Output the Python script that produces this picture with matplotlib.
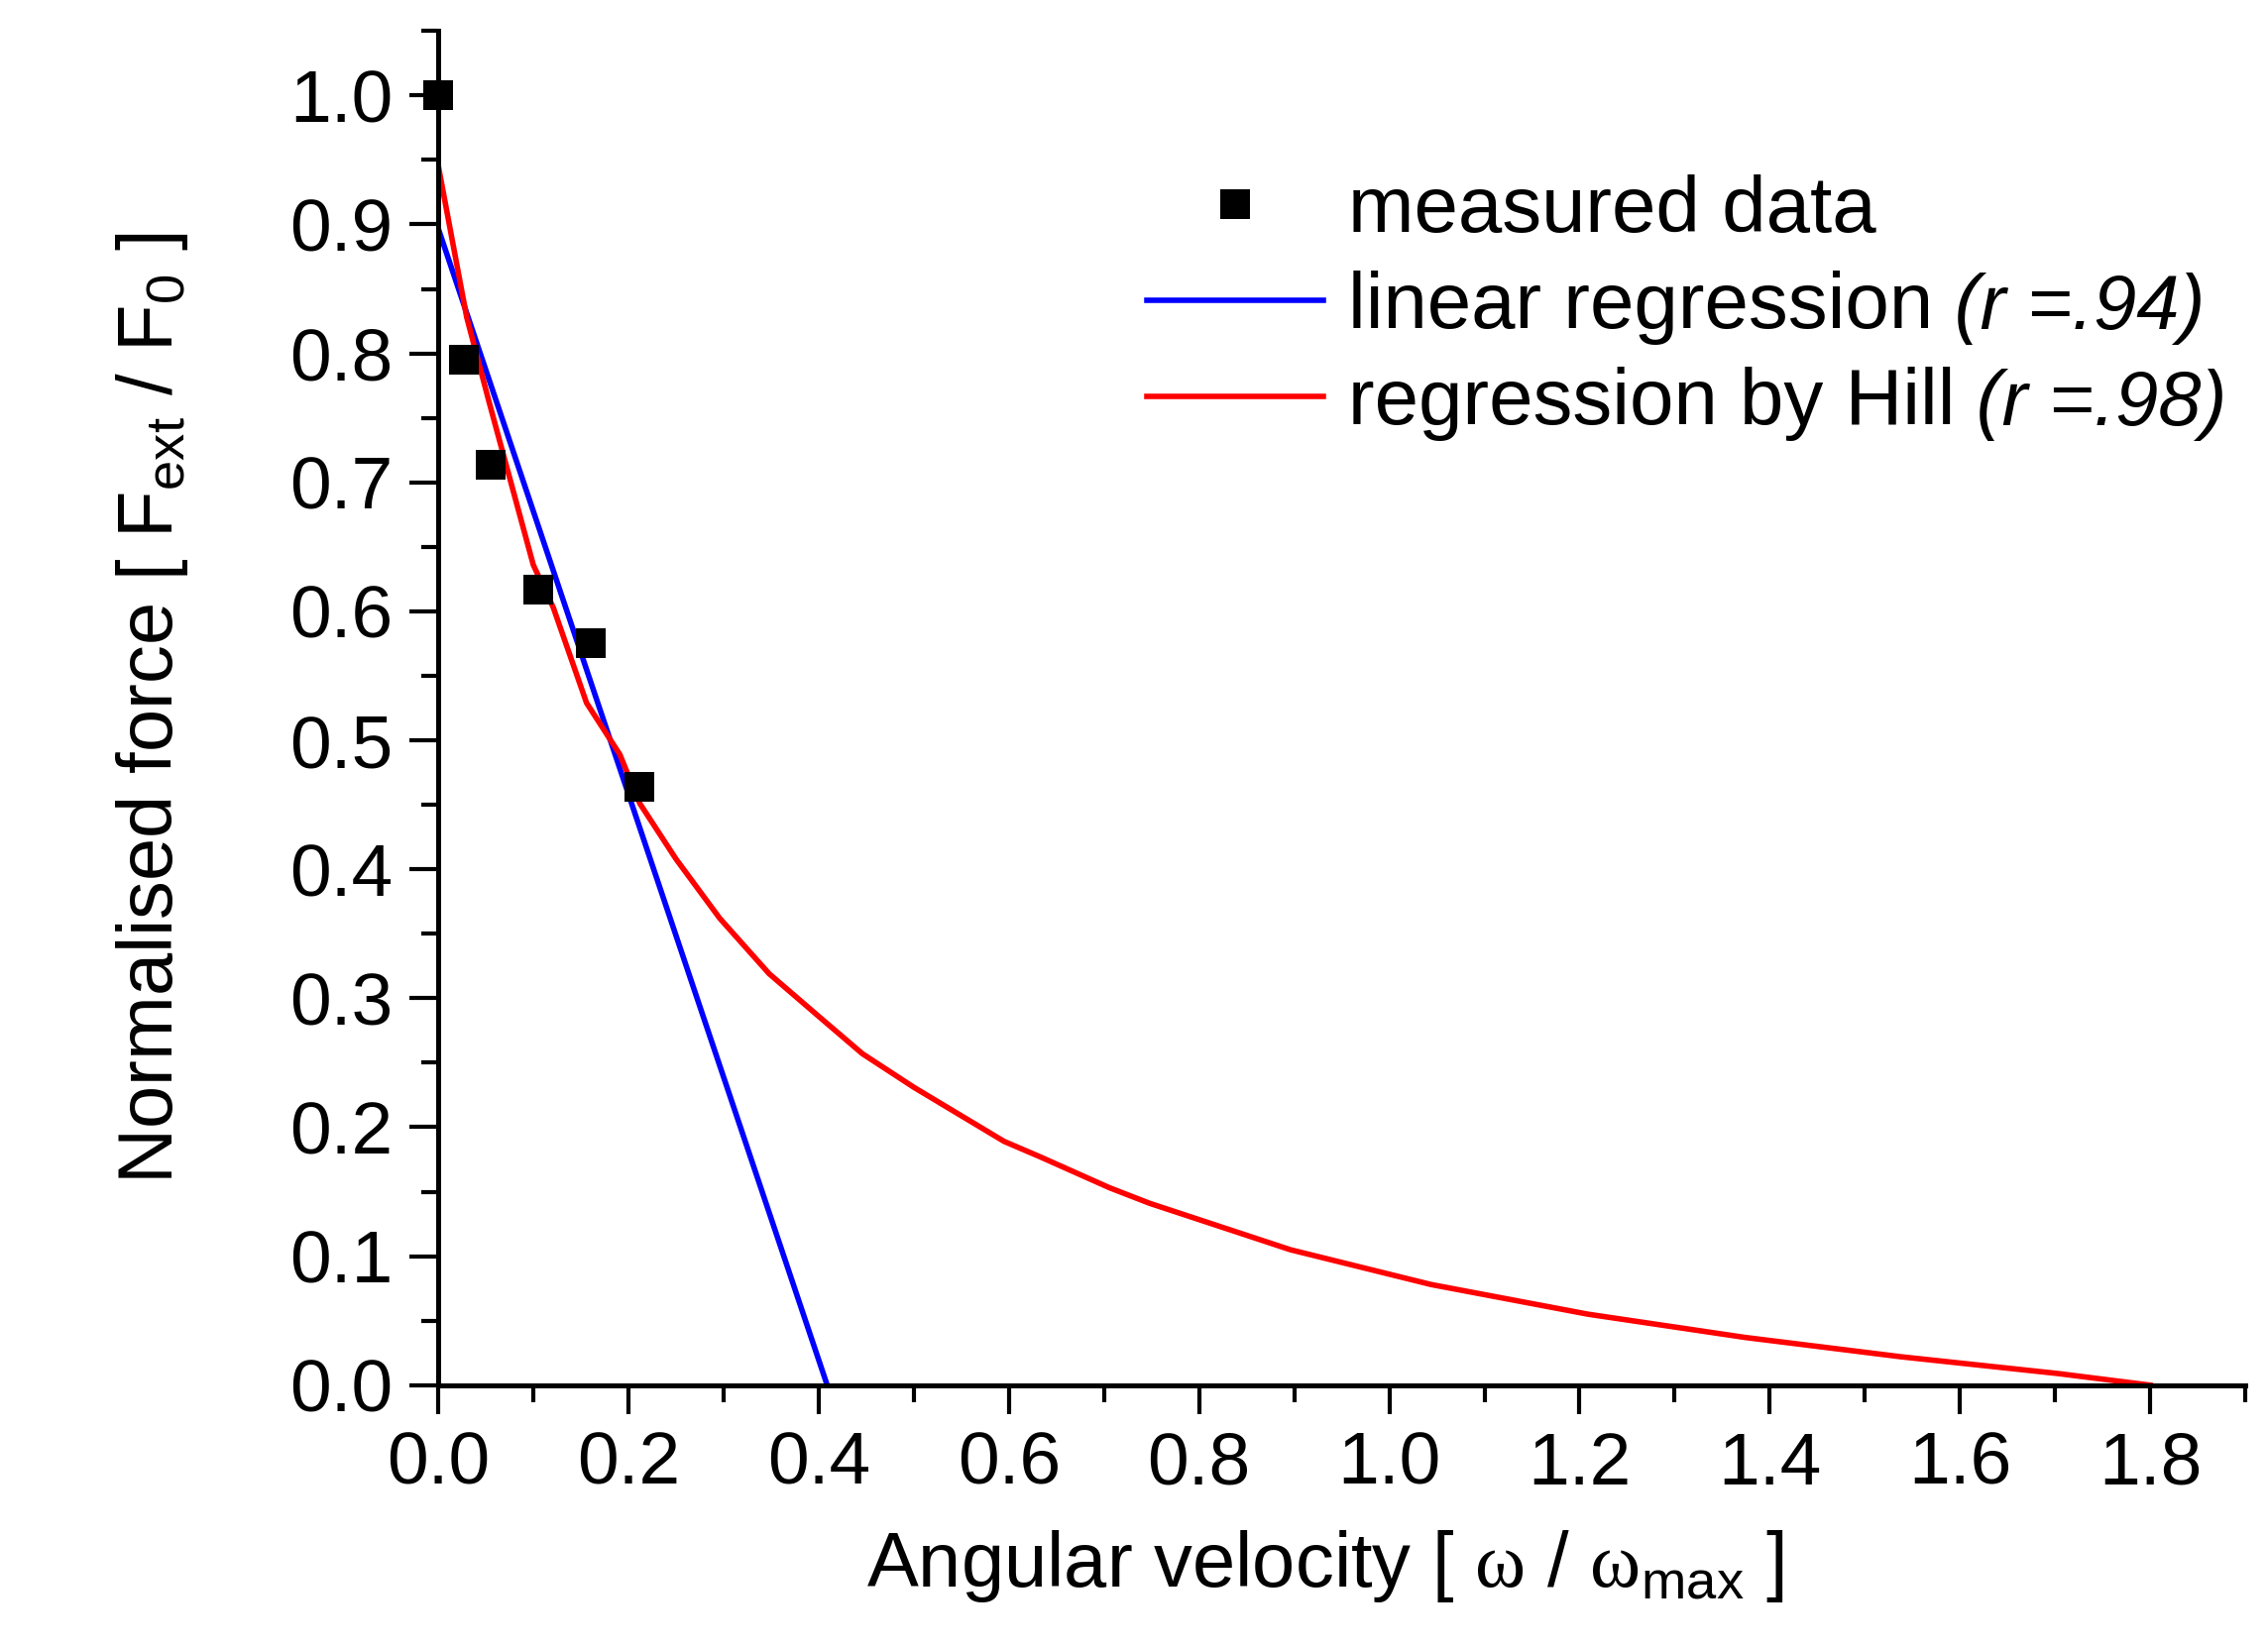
import matplotlib
matplotlib.use("Agg")
import matplotlib.pyplot as plt
from matplotlib.ticker import MultipleLocator, FormatStrFormatter

# ---- data ----
measured_x = [0.0, 0.027, 0.055, 0.105, 0.160, 0.212]
measured_y = [1.0, 0.795, 0.714, 0.617, 0.575, 0.464]

linear_x = [0.0, 0.409]
linear_y = [0.897, 0.0]

hill_x = [0.0, 0.030, 0.054, 0.100, 0.121, 0.156, 0.191, 0.212, 0.250, 0.296,
          0.348, 0.400, 0.446, 0.500, 0.595, 0.633, 0.706, 0.748, 0.896, 1.044,
          1.209, 1.374, 1.538, 1.703, 1.800]
hill_y = [0.946, 0.828, 0.761, 0.636, 0.603, 0.529, 0.489, 0.451, 0.408, 0.362,
          0.319, 0.286, 0.257, 0.231, 0.189, 0.177, 0.153, 0.141, 0.105, 0.078,
          0.055, 0.037, 0.022, 0.009, 0.000]

x_ticks = [0.0, 0.2, 0.4, 0.6, 0.8, 1.0, 1.2, 1.4, 1.6, 1.8]
y_ticks = [0.0, 0.1, 0.2, 0.3, 0.4, 0.5, 0.6, 0.7, 0.8, 0.9, 1.0]

labels = ["measured data", "linear regression", "regression by Hill"]
r_notes = ["", " (r =.94)", " (r =.98)"]

plt.rcParams['font.family'] = ['Liberation Sans', 'DejaVu Sans']
plt.rcParams['mathtext.fontset'] = 'custom'
plt.rcParams['mathtext.rm'] = 'Liberation Serif'
plt.rcParams['mathtext.sf'] = 'Liberation Sans'
plt.rcParams['mathtext.it'] = 'Liberation Sans:italic'

FS = 54
LFS = 56
LEGFS = 57.5
NOTEFS = 56

fig = plt.figure(figsize=(22.88, 16.63), dpi=100)
ax = fig.add_axes([0.1932, 0.1595, 0.7968, 0.8217])

ax.plot(linear_x, linear_y, color='#0000ff', lw=4, label=labels[1], zorder=2)
ax.plot(hill_x, hill_y, color='#ff0000', lw=4, label=labels[2], zorder=2)
ax.plot(measured_x, measured_y, ls='none', marker='s', ms=21, color='black',
        markeredgewidth=0, label=labels[0], zorder=3, clip_on=False)

ax.set_xlim(0, 1.9)
ax.set_ylim(0, 1.05)

for s in ['top', 'right']:
    ax.spines[s].set_visible(False)
for s in ['left', 'bottom']:
    ax.spines[s].set_linewidth(3.6)

ax.set_xticks(x_ticks)
ax.set_yticks(y_ticks)
ax.xaxis.set_major_formatter(FormatStrFormatter('%.1f'))
ax.yaxis.set_major_formatter(FormatStrFormatter('%.1f'))
ax.xaxis.set_minor_locator(MultipleLocator(0.1))
ax.yaxis.set_minor_locator(MultipleLocator(0.05))
ax.tick_params(which='major', direction='out', length=21, width=3, labelsize=FS, pad=12)
ax.tick_params(which='minor', direction='out', length=12, width=3)

ax.set_xlabel(r"Angular velocity [ $\mathrm{\omega}$ / $\mathrm{\omega}_{\mathsf{max}}$ ]",
              fontsize=LFS, labelpad=21)
ax.xaxis.label.set_x(0.491)
ax.set_ylabel(r"Normalised force [ $\mathsf{F_{ext}}$ / $\mathsf{F_{0}}$ ]",
              fontsize=LFS, labelpad=72)

h, l = ax.get_legend_handles_labels()
order = [2, 0, 1]
leg = ax.legend([h[i] for i in order], [l[i] for i in order],
                loc='upper left', bbox_to_anchor=(1157 / 2288, 1 - 176 / 1663),
                bbox_transform=fig.transFigure, frameon=False, fontsize=LEGFS,
                handlelength=2.23, handletextpad=0.31, labelspacing=0.275,
                borderpad=0, borderaxespad=0, markerscale=1.0)

# italic correlation notes appended after the legend labels
fig.canvas.draw()
renderer = fig.canvas.get_renderer()
for t, note in zip(leg.get_texts(), r_notes):
    if not note:
        continue
    bb = t.get_window_extent(renderer)
    fig.text(bb.x1, bb.y0, note, transform=None, fontsize=NOTEFS, style='italic',
             ha='left', va='bottom')

fig.savefig("out.png", dpi=100)
